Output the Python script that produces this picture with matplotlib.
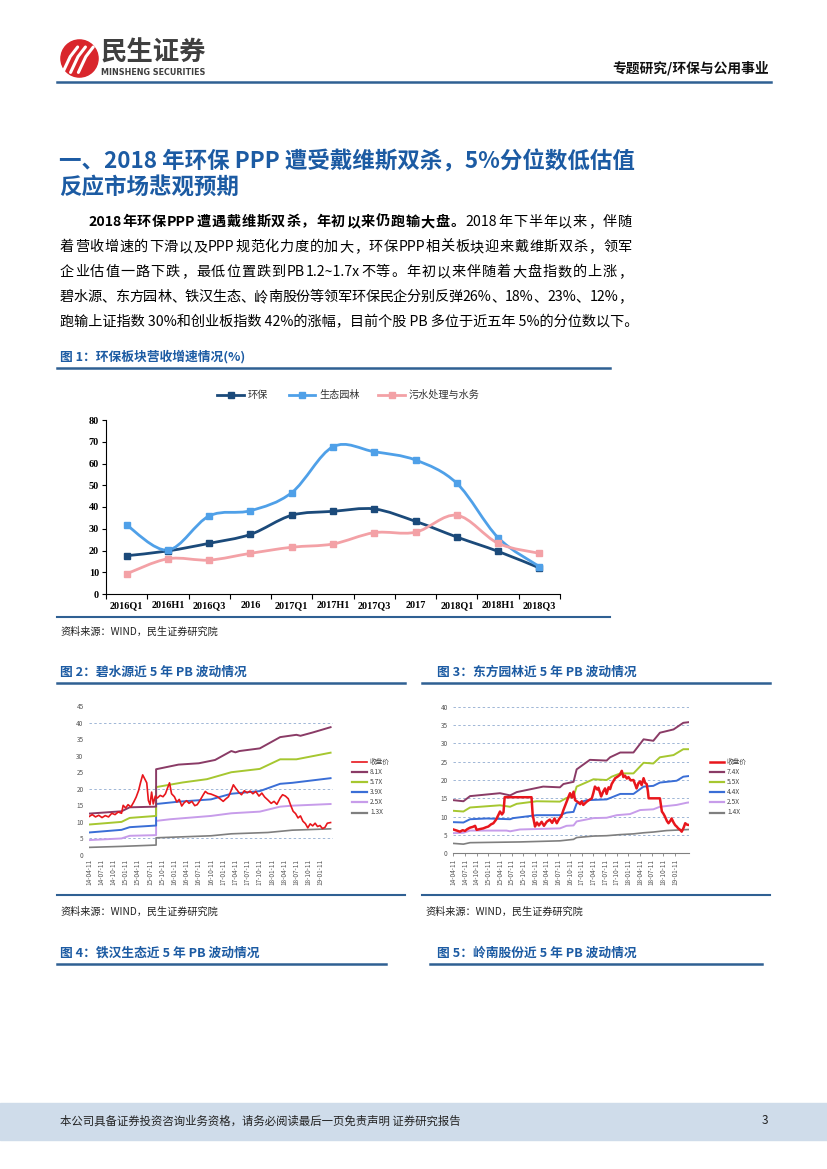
import matplotlib
matplotlib.use('Agg')
import matplotlib.pyplot as plt
from matplotlib.lines import Line2D
from matplotlib.patches import Rectangle, Circle, PathPatch
from matplotlib.path import Path
import numpy as np

W, H = 827, 1169
CJK = ['Noto Sans CJK SC', 'DejaVu Sans']
SERIF = ['Liberation Serif', 'Noto Sans CJK SC']
plt.rcParams['font.family'] = CJK
plt.rcParams['axes.unicode_minus'] = False

# ---------------- data: figure 1 (营收增速, %)
quarters = ['2016Q1', '2016H1', '2016Q3', '2016', '2017Q1', '2017H1',
            '2017Q3', '2017', '2018Q1', '2018H1', '2018Q3']
huanbao = [17.6, 19.8, 23.3, 27.4, 36.2, 38.0, 39.1, 33.4, 26.2, 19.6, 12.0]
shengtai = [31.7, 20.2, 35.9, 38.3, 46.6, 67.7, 65.4, 61.6, 50.9, 25.9, 12.6]
wushui = [9.3, 16.2, 15.6, 18.7, 21.5, 23.0, 28.2, 28.4, 36.2, 23.3, 18.7]
fig1_names = ['环保', '生态园林', '污水处理与水务']

# ---------------- data: PB bands, x = months since 14-04-11
date_labels = ['14-04-11', '14-07-11', '14-10-11', '15-01-11', '15-04-11', '15-07-11',
               '15-10-11', '16-01-11', '16-04-11', '16-07-11', '16-10-11', '17-01-11',
               '17-04-11', '17-07-11', '17-10-11', '18-01-11', '18-04-11', '18-07-11',
               '18-10-11', '19-01-11']
date_months = [0, 3, 6, 9, 12, 15, 18, 21, 24, 27, 30, 33, 36, 39, 42, 45, 48, 51, 54, 57]

# 碧水源
bsy_labels = ['收盘价', '8.1X', '5.7X', '3.9X', '2.5X', '1.3X']
bsy_close = [(0, 11.6), (0.8, 12.2), (1.6, 11.5), (2.4, 12.0), (3.2, 11.3), (4.0, 11.9),
             (4.8, 11.5), (5.6, 12.6), (6.4, 12.2), (7.2, 13.0), (8.0, 12.6), (8.4, 15.0),
             (9.0, 14.2), (9.6, 15.2), (10.3, 14.5), (11.0, 16.0), (11.6, 17.5), (12.2, 19.5),
             (12.7, 22.0), (13.2, 24.2), (13.7, 23.0), (14.2, 21.8), (14.6, 16.5), (15.0, 15.2),
             (15.4, 19.0), (15.8, 15.4), (16.3, 17.8), (16.8, 17.2), (17.5, 18.0), (18.2, 17.6),
             (18.8, 18.5), (19.3, 20.2), (19.8, 21.8), (20.3, 18.5), (21.0, 17.6), (21.6, 16.0),
             (22.2, 16.8), (22.8, 14.8), (23.4, 15.8), (24.0, 16.4), (24.6, 15.6), (25.3, 16.2),
             (26.0, 14.9), (26.6, 15.2), (27.3, 16.5), (28.0, 18.0), (28.6, 19.2), (29.2, 18.6),
             (30.0, 18.4), (30.8, 18.0), (31.6, 17.6), (32.4, 16.8), (33.0, 16.2), (33.6, 16.9),
             (34.3, 17.6), (35.0, 19.6), (35.5, 21.2), (36.0, 20.3), (36.8, 19.0), (37.5, 18.2),
             (38.2, 19.4), (38.9, 18.8), (39.6, 19.3), (40.3, 18.5), (41.0, 19.2), (41.8, 17.8),
             (42.5, 18.7), (43.2, 17.5), (44.0, 16.6), (44.8, 15.6), (45.5, 16.2), (46.2, 15.3),
             (47.0, 17.2), (47.6, 18.2), (48.3, 17.8), (49.0, 17.0), (49.6, 15.0), (50.2, 13.2),
             (50.8, 12.5), (51.4, 11.2), (52.0, 11.8), (52.6, 10.2), (53.2, 9.5), (53.8, 8.2),
             (54.4, 9.4), (55.0, 8.8), (55.6, 9.6), (56.2, 8.6), (56.8, 8.9), (57.4, 8.0),
             (58.0, 8.3), (58.6, 9.6), (59.4, 9.8)]
bsy_top = [(0, 12.5), (8, 13.2), (10, 14.4), (16.5, 14.6), (16.5, 25.9), (22, 27.3), (27, 27.7),
           (31, 28.7), (35, 31.4), (36, 31.0), (37, 31.4), (42, 32.2), (47, 35.6), (51, 36.3),
           (52, 36.0), (55, 37.0), (59.4, 38.6)]
bsy_high = [(0, 9.2), (8, 10.0), (10, 11.2), (16.5, 11.8), (16.5, 20.5), (23, 21.9), (29, 22.9),
            (35, 25.0), (42, 26.0), (47, 28.9), (51, 28.9), (59.4, 30.9)]
bsy_mid = [(0, 6.8), (8, 7.6), (10, 8.4), (16.5, 8.9), (16.5, 15.4), (22, 16.1), (30, 16.8),
           (35, 18.5), (42, 19.3), (47, 21.5), (50, 21.8), (59.4, 23.2)]
bsy_low = [(0, 4.5), (8, 5.0), (10, 5.8), (16.5, 6.0), (16.5, 10.3), (20, 10.8), (30, 11.8),
           (35, 12.6), (42, 13.1), (47, 14.6), (50, 14.9), (59.4, 15.4)]
bsy_bottom = [(0, 2.3), (8, 2.6), (16.5, 3.0), (16.5, 5.2), (30, 5.8), (35, 6.4), (44, 6.8),
              (50, 7.5), (59.4, 7.9)]

# 东方园林
dfyl_labels = ['收盘价', '7.4X', '5.5X', '4.4X', '2.5X', '1.4X']
dfyl_close = [(0, 6.5), (0.9, 6.2), (1.7, 5.9), (2.4, 6.3), (3.0, 6.1), (3.6, 6.6), (4.3, 7.0),
              (5.0, 7.2), (5.6, 7.5), (6.0, 6.4), (6.8, 6.6), (7.7, 6.8), (8.4, 7.1), (9.0, 7.3),
              (9.7, 7.9), (10.3, 8.2), (11.0, 9.2), (11.6, 10.5), (12.0, 11.4), (12.5, 10.6),
              (12.9, 11.2), (13.2, 15.3), (20.1, 15.3), (20.4, 10.5), (21.0, 7.3), (21.5, 8.4),
              (22.0, 7.6), (22.7, 8.6), (23.3, 7.5), (24.0, 8.6), (24.8, 9.2), (25.4, 8.3),
              (26.0, 9.5), (26.6, 8.2), (27.2, 9.4), (27.8, 10.2), (28.3, 11.8), (29.1, 14.0),
              (29.6, 15.4), (30.0, 16.4), (30.5, 15.2), (30.9, 16.8), (31.3, 14.5), (32.0, 14.0),
              (32.6, 13.4), (33.0, 14.2), (33.4, 13.2), (34.3, 14.1), (35.0, 14.6), (35.6, 15.0),
              (36.0, 16.5), (36.4, 18.2), (37.0, 17.4), (37.3, 17.9), (38.0, 15.5), (38.5, 16.8),
              (39.0, 17.7), (39.4, 16.2), (39.9, 18.0), (40.3, 17.5), (40.7, 18.9), (41.2, 19.8),
              (41.6, 20.5), (42.2, 20.9), (42.8, 21.4), (43.3, 22.5), (43.7, 20.8), (44.1, 21.2),
              (44.6, 20.4), (45.0, 20.8), (45.6, 19.9), (46.3, 20.0), (46.8, 18.6), (47.1, 17.7),
              (47.6, 19.2), (48.0, 19.6), (48.4, 18.6), (48.9, 20.5), (49.3, 19.2), (49.7, 18.9),
              (50.0, 17.0), (50.2, 15.0), (53.1, 15.0), (53.6, 11.4), (54.0, 10.8), (54.4, 10.0),
              (54.9, 8.8), (55.3, 8.2), (55.8, 8.9), (56.1, 9.5), (56.6, 8.4), (57.0, 7.7),
              (57.4, 7.3), (57.8, 6.8), (58.3, 6.4), (58.7, 5.9), (59.2, 7.0), (59.6, 8.2),
              (60.1, 7.8), (60.7, 7.7)]
dfyl_top = [(0, 14.5), (2.6, 14.2), (4.3, 15.6), (12.0, 16.4), (14.6, 15.8), (16.3, 16.7),
            (23.1, 18.2), (27.4, 18.0), (28.3, 18.9), (30.9, 19.5), (31.7, 22.9), (35.1, 25.5),
            (39.4, 25.3), (40.3, 26.2), (42.9, 27.5), (46.3, 27.5), (48.9, 31.1), (51.4, 30.7),
            (53.1, 32.9), (56.6, 33.8), (59.1, 35.6), (60.7, 35.8)]
dfyl_high = [(0, 11.6), (2.6, 11.4), (4.3, 12.5), (12.0, 13.1), (14.6, 12.7), (16.3, 13.5),
             (21.4, 14.2), (27.4, 14.1), (29.1, 15.1), (30.9, 15.5), (31.7, 18.2), (34.3, 19.4),
             (36.0, 20.2), (39.4, 20.0), (40.7, 20.9), (42.9, 21.8), (46.3, 21.8), (48.9, 24.7),
             (51.4, 24.5), (53.1, 26.2), (56.6, 26.8), (59.1, 28.4), (60.7, 28.4)]
dfyl_mid = [(0, 8.5), (2.6, 8.4), (4.3, 9.3), (8.6, 9.5), (14.6, 9.3), (15.4, 9.6), (21.4, 10.4),
            (27.4, 10.4), (29.1, 11.1), (30.9, 11.3), (31.7, 13.6), (34.3, 14.5), (39.4, 14.7),
            (42.9, 16.2), (46.3, 16.2), (48.9, 18.2), (51.4, 18.4), (53.1, 19.3), (57.4, 19.8),
            (59.1, 20.9), (60.7, 21.1)]
dfyl_low = [(0, 5.5), (2.6, 5.6), (4.3, 6.2), (13.7, 6.2), (14.6, 6.0), (17.1, 6.5), (27.4, 6.8),
            (29.1, 7.5), (30.9, 7.6), (31.7, 8.7), (36.0, 9.6), (39.4, 9.7), (42.0, 10.4),
            (45.4, 10.7), (48.0, 11.8), (51.4, 12.0), (53.1, 12.7), (57.4, 13.2), (60.0, 13.8),
            (60.7, 13.9)]
dfyl_bottom = [(0, 2.7), (2.6, 2.5), (4.3, 2.9), (17.1, 3.1), (27.4, 3.4), (30.9, 3.8),
               (31.7, 4.3), (36.0, 4.7), (39.4, 4.8), (42.9, 5.1), (46.3, 5.3), (48.9, 5.6),
               (51.4, 5.8), (54.8, 6.2), (60.7, 6.5)]

band_colors = ['#E8161C', '#8A3B66', '#A6C730', '#3A6ED6', '#C79CEA', '#7F7F7F']

TITLE_BLUE = '#1C5BA3'
RULE = '#2F6093'

fig = plt.figure(figsize=(W / 100, H / 100), dpi=100)


def fx(x):
    return x / W


def fy(y):
    return 1 - y / H


def box(l, t, r, b):
    return [l / W, 1 - b / H, (r - l) / W, (b - t) / H]


def hline(y, x0, x1, lw=1.5, color=RULE):
    fig.add_artist(Line2D([fx(x0), fx(x1)], [fy(y), fy(y)], lw=lw, color=color,
                          transform=fig.transFigure))


def tokens(s):
    out, buf = [], ''
    for ch in s:
        if ord(ch) < 128 and ch != ' ':
            buf += ch
        else:
            if buf:
                out.append(buf)
                buf = ''
            if ch != ' ':
                out.append(ch)
    if buf:
        out.append(buf)
    return out


def justify(base, segs, x0, x1, size):
    items = []
    for s, w in segs:
        for t in tokens(s):
            items.append((t, w))
    arts = [fig.text(0, fy(base), t, fontsize=size, fontweight=w, color='black',
                     ha='left', va='baseline') for t, w in items]
    r = fig.canvas.get_renderer()
    widths = [a.get_window_extent(r).width for a in arts]
    gap = (x1 - x0 - sum(widths)) / (len(arts) - 1)
    x = x0
    for a, w in zip(arts, widths):
        a.set_x(fx(x))
        x += w + gap


# ---------------- page header
lax = fig.add_axes(box(60, 39, 99, 78))
lax.set_xlim(-1.05, 1.05)
lax.set_ylim(-1.05, 1.05)
lax.set_aspect('equal')
lax.axis('off')
lax.add_patch(Circle((0, 0), 1.0, color='#D9262C'))
for k in range(3):
    off = -0.55 + 0.42 * k
    lax.plot([off - 0.35, off + 0.05, off + 0.45], [-0.75, 0.1, 0.62], color='white',
             lw=2.2, solid_capstyle='round')
fig.text(fx(101), fy(53), '民生证券', fontsize=19, fontweight='bold', color='#3F3F3F',
         ha='left', va='center')
fig.text(fx(101), fy(72.5), 'MINSHENG SECURITIES', fontsize=5.8, fontweight='bold',
         color='#3F3F3F', ha='left', va='center', family=['DejaVu Sans'])
fig.text(fx(769), fy(68), '专题研究/环保与公用事业', fontsize=9.9, fontweight='bold',
         color='#111111', ha='right', va='center')
hline(82, 57, 771, lw=1.8)

# ---------------- section title and body
fig.text(fx(59), fy(162), '一、2018 年环保 PPP 遭受戴维斯双杀，5%分位数低估值', fontsize=16.2,
         fontweight='bold', color=TITLE_BLUE, ha='left', va='center')
fig.text(fx(59), fy(187), '反应市场悲观预期', fontsize=16.2, fontweight='bold',
         color=TITLE_BLUE, ha='left', va='center')

BS = 10.2
justify(226, [('2018 年环保 PPP 遭遇戴维斯双杀，年初以来仍跑输大盘。', 'bold'),
              ('2018 年下半年以来，伴随', 'normal')], 88, 632, BS)
justify(251, [('着营收增速的下滑以及 PPP 规范化力度的加大，环保 PPP 相关板块迎来戴维斯双杀，领军',
               'normal')], 60, 632, BS)
justify(276, [('企业估值一路下跌，最低位置跌到 PB 1.2~1.7x 不等。年初以来伴随着大盘指数的上涨，',
               'normal')], 60, 632, BS)
justify(301, [('碧水源、东方园林、铁汉生态、岭南股份等领军环保民企分别反弹 26%、18%、23%、12%，',
               'normal')], 60, 632, BS)
fig.text(fx(60), fy(326), '跑输上证指数 30%和创业板指数 42%的涨幅，目前个股 PB 多位于近五年 5%的分位数以下。',
         fontsize=BS, color='black', ha='left', va='baseline')

# ---------------- figure 1
fig.text(fx(60), fy(357), '图 1：环保板块营收增速情况(%)', fontsize=9.2, fontweight='bold',
         color=TITLE_BLUE, ha='left', va='center')
hline(368, 57, 610, lw=1.8)

c1 = ['#1B4A7A', '#4FA0E8', '#F3A1A6']
series1 = [huanbao, shengtai, wushui]
ax1 = fig.add_axes(box(106, 420, 560, 594))
xs = np.arange(len(quarters))


def smooth_path(x, y):
    P = np.column_stack([x, y]).astype(float)
    n = len(P)
    verts, codes = [P[0]], [Path.MOVETO]
    for i in range(n - 1):
        p0, p1 = P[max(i - 1, 0)], P[i]
        p2, p3 = P[i + 1], P[min(i + 2, n - 1)]
        verts += [p1 + (p2 - p0) / 6, p2 - (p3 - p1) / 6, p2]
        codes += [Path.CURVE4] * 3
    return Path(verts, codes)


for vals, col in zip(series1, c1):
    ax1.add_patch(PathPatch(smooth_path(xs, vals), fill=False, edgecolor=col, lw=2.0,
                            capstyle='round', zorder=2))
    ax1.plot(xs, vals, ls='none', marker='s', ms=4.6, color=col, zorder=3)

ax1.set_xlim(-0.5, len(quarters) - 0.5)
ax1.set_ylim(0, 80)
ax1.set_yticks(range(0, 81, 10))
ax1.set_xticks(xs)
ax1.set_xticklabels(quarters)
ax1.set_xticks(np.arange(-0.5, len(quarters), 1.0), minor=True)
for s in ['top', 'right']:
    ax1.spines[s].set_visible(False)
for s in ['left', 'bottom']:
    ax1.spines[s].set_linewidth(0.8)
ax1.tick_params(axis='y', direction='out', length=3, width=0.8, pad=2)
ax1.tick_params(axis='x', which='major', length=0, pad=5)
ax1.tick_params(axis='x', which='minor', direction='out', length=3.5, width=0.8)
for lab in ax1.get_yticklabels() + ax1.get_xticklabels():
    lab.set_fontfamily(SERIF)
    lab.set_fontweight('bold')
    lab.set_fontsize(7.3)

leg_x = [(217, 244, 248), (289, 315, 319), (378, 405, 409)]
for (a, b, t), col, name in zip(leg_x, c1, fig1_names):
    fig.add_artist(Line2D([fx(a), fx(b)], [fy(395), fy(395)], lw=2.0, color=col,
                          transform=fig.transFigure))
    fig.add_artist(Line2D([fx((a + b) / 2)], [fy(395)], marker='s', ms=4.2, color=col,
                          transform=fig.transFigure))
    fig.text(fx(t), fy(395), name, fontsize=7.3, color='#333333', ha='left', va='center')

hline(617, 57, 610, lw=1.5)
fig.text(fx(60), fy(632), '资料来源：WIND，民生证券研究院', fontsize=7.3, color='#222222',
         ha='left', va='center')


# ---------------- figures 2 and 3
def band_chart(rect, xmax, ymax, series, red_lw, grid_vals, leg_x, labels, axis_line):
    ax = fig.add_axes(rect)
    widths = [red_lw, 1.4, 1.4, 1.4, 1.4, 1.2]
    order = [5, 4, 3, 2, 1, 0]
    for i in order:
        m, v = zip(*series[i])
        ax.plot(m, v, color=band_colors[i], lw=widths[i], zorder=3 + (i == 0))
    for g in grid_vals:
        ax.axhline(g, color='#9FB6D6', lw=0.7, ls=(0, (2.5, 2.5)), zorder=1)
    ax.set_xlim(0, xmax)
    ax.set_ylim(0, ymax)
    ax.set_yticks(range(0, ymax + 1, 5))
    ax.set_xticks(date_months)
    ax.set_xticklabels(date_labels, rotation=90)
    for s in ['top', 'right', 'left']:
        ax.spines[s].set_visible(False)
    if axis_line:
        ax.spines['bottom'].set_color('#808080')
        ax.spines['bottom'].set_linewidth(0.8)
        ax.tick_params(axis='x', length=2.5, width=0.6, color='#808080', pad=1.5)
    else:
        ax.spines['bottom'].set_visible(False)
        ax.tick_params(axis='x', length=0, pad=3)
    ax.tick_params(axis='y', length=0, pad=4)
    for lab in ax.get_yticklabels() + ax.get_xticklabels():
        lab.set_fontsize(4.6)
        lab.set_color('#555555')
    a, b, t = leg_x
    for k in range(6):
        yy = 761.5 + 10.2 * k
        fig.add_artist(Line2D([fx(a), fx(b)], [fy(yy), fy(yy)], lw=1.6 if k else red_lw,
                              color=band_colors[k], transform=fig.transFigure))
        fig.text(fx(t), fy(yy), labels[k], fontsize=4.8, color='#444444', ha='left',
                 va='center')
    return ax


fig.text(fx(60), fy(672), '图 2：碧水源近 5 年 PB 波动情况', fontsize=9.2, fontweight='bold',
         color=TITLE_BLUE, ha='left', va='center')
fig.text(fx(437), fy(672), '图 3：东方园林近 5 年 PB 波动情况', fontsize=9.2, fontweight='bold',
         color=TITLE_BLUE, ha='left', va='center')
hline(683, 57, 405, lw=1.8)
hline(683, 422, 770, lw=1.8)

band_chart(box(89, 706, 333, 855), 60, 45,
           [bsy_close, bsy_top, bsy_high, bsy_mid, bsy_low, bsy_bottom], 1.2,
           [5, 20, 40], (352, 367, 370), bsy_labels, False)
band_chart(box(453.3, 706.7, 689.5, 853.3), 60.7, 40,
           [dfyl_close, dfyl_top, dfyl_high, dfyl_mid, dfyl_low, dfyl_bottom], 1.8,
           [5, 10, 15, 20, 25, 30, 35, 40], (710, 724, 727), dfyl_labels, True)

hline(895, 57, 405, lw=1.5)
hline(895, 422, 770, lw=1.5)
fig.text(fx(60), fy(912), '资料来源：WIND，民生证券研究院', fontsize=7.3, color='#222222',
         ha='left', va='center')
fig.text(fx(425), fy(912), '资料来源：WIND，民生证券研究院', fontsize=7.3, color='#222222',
         ha='left', va='center')

# ---------------- figures 4 and 5 (headings only on this page)
fig.text(fx(60), fy(953), '图 4：铁汉生态近 5 年 PB 波动情况', fontsize=9.2, fontweight='bold',
         color=TITLE_BLUE, ha='left', va='center')
fig.text(fx(437), fy(953), '图 5：岭南股份近 5 年 PB 波动情况', fontsize=9.2, fontweight='bold',
         color=TITLE_BLUE, ha='left', va='center')
hline(964, 57, 386, lw=1.8)
hline(964, 430, 762, lw=1.8)

# ---------------- footer
fig.add_artist(Rectangle((0, fy(1140)), 1, (1140 - 1103) / H, color='#CFDCEA',
                         transform=fig.transFigure, zorder=0))
fig.text(fx(60), fy(1121), '本公司具备证券投资咨询业务资格，请务必阅读最后一页免责声明 证券研究报告',
         fontsize=8.2, color='#222222', ha='left', va='center')
fig.text(fx(768), fy(1121), '3', fontsize=8.5, color='#222222', ha='right', va='center')

fig.savefig('out.png', dpi=100)
